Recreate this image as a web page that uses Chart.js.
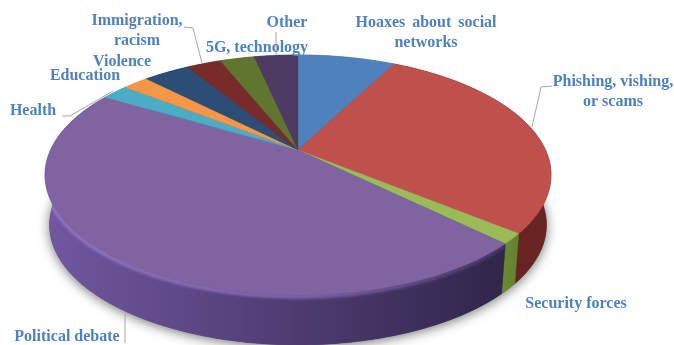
<!DOCTYPE html>
<html>
<head>
<meta charset="utf-8">
<title>Topics of disinformation</title>
<script src="https://cdn.jsdelivr.net/npm/chart.js@4"></script>
<style>
  html, body { margin: 0; background: #fff; overflow: hidden; }
  canvas { display: block; }
</style>
</head>
<body>
<canvas id="pie_chart" width="674" height="345"></canvas>
<script>
const categories = [
  "Hoaxes about social networks",
  "Phishing, vishing, or scams",
  "Security forces",
  "Political debate",
  "Health",
  "Education",
  "Violence",
  "Immigration, racism",
  "5G, technology",
  "Other",
];
const shares = [7.6, 28.3, 1.4, 46.2, 2.1, 2.0, 3.6, 2.7, 2.7, 3.4];
const faceColors = [
  "#4f81bd", "#c0504d", "#9bbb59", "#8064a2", "#4bacc6",
  "#f79646", "#2c4d75", "#772c2a", "#5f7530", "#4d3b62",
];
// left and right colour of each slice's side wall
const wallColors = [
  ["#3f6797", "#3f6797"], ["#5a1f1e", "#6a2523"], ["#6c8a35", "#64802f"],
  ["#7257a0", "#30254a"], ["#3c8a9e", "#3c8a9e"], ["#c67838", "#c67838"],
  ["#233e5e", "#233e5e"], ["#5f2322", "#5f2322"], ["#4c5e26", "#4c5e26"],
  ["#3e2f4e", "#3e2f4e"],
];

// tilted disc: apex position, radii and perspective strength
const disc = { x: 298, y: 150, a: 247.5, b: 114.8, k: 0.208, depth: 50, shrink: 0.982 };

function project(angle, r, lower) {
  const u = Math.sin(angle) * r;
  const v = -Math.cos(angle) * r;
  const w = 1 - disc.k * v;
  const s = lower ? disc.shrink : 1;
  return {
    x: disc.x + (disc.a * u * s) / w,
    y: disc.y + (disc.b * v) / w + (lower ? disc.depth : 0),
  };
}

function rimPoints(start, end, lower) {
  const n = Math.max(2, Math.ceil((end - start) * 60));
  const pts = [];
  for (let i = 0; i <= n; i++) {
    pts.push(project(start + ((end - start) * i) / n, 1, lower));
  }
  return pts;
}

const tiltedPie = {
  id: "tiltedPie",
  beforeDatasetsDraw(chart) {
    const ctx = chart.ctx;
    // chart.js angles start at 3 o'clock, the disc formula at 12
    const slices = chart.getDatasetMeta(0).data.map((arc, i) => ({
      start: arc.startAngle + Math.PI / 2,
      end: arc.endAngle + Math.PI / 2,
      i,
    }));

    // soft shadow under the base
    ctx.save();
    ctx.shadowColor = "rgba(0,0,0,0.55)";
    ctx.shadowBlur = 12;
    ctx.shadowOffsetY = 2;
    ctx.fillStyle = "#444";
    ctx.beginPath();
    rimPoints(0, Math.PI * 2, true).forEach((p) => ctx.lineTo(p.x, p.y));
    ctx.closePath();
    ctx.fill();
    ctx.restore();

    // side walls
    slices.forEach((s) => {
      const top = rimPoints(s.start, s.end, false);
      const low = rimPoints(s.start, s.end, true).reverse();
      const xs = top.concat(low).map((p) => p.x);
      const g = ctx.createLinearGradient(Math.min(...xs), 0, Math.max(...xs), 0);
      g.addColorStop(0, wallColors[s.i][0]);
      g.addColorStop(1, wallColors[s.i][1]);
      ctx.fillStyle = g;
      ctx.strokeStyle = g;
      ctx.lineWidth = 0.5;
      ctx.beginPath();
      top.concat(low).forEach((p) => ctx.lineTo(p.x, p.y));
      ctx.closePath();
      ctx.fill();
      ctx.stroke();
    });

    // lit bevel along the front rim of the largest slice, front half only
    const big = slices[3];
    const frontEnd = Math.PI * 2 - Math.acos(-disc.k);
    ctx.save();
    ctx.beginPath();
    rimPoints(0, Math.PI * 2, true).forEach((p) => ctx.lineTo(p.x, p.y));
    ctx.rect(0, 0, 674, 175);
    ctx.clip("nonzero");
    ctx.filter = "blur(1.5px)";
    const bevel = ctx.createLinearGradient(50, 0, 500, 0);
    bevel.addColorStop(0, "rgba(150,118,196,1)");
    bevel.addColorStop(0.6, "rgba(140,110,190,0.85)");
    bevel.addColorStop(1, "rgba(128,100,162,0.3)");
    ctx.strokeStyle = bevel;
    ctx.lineWidth = 4;
    ctx.beginPath();
    rimPoints(big.start, frontEnd, false).forEach((p) => ctx.lineTo(p.x, p.y + 1.5));
    ctx.stroke();
    ctx.restore();

    // top faces
    slices.forEach((s) => {
      ctx.fillStyle = faceColors[s.i];
      ctx.strokeStyle = faceColors[s.i];
      ctx.lineWidth = 0.4;
      ctx.beginPath();
      ctx.moveTo(disc.x, disc.y);
      rimPoints(s.start, s.end, false).forEach((p) => ctx.lineTo(p.x, p.y));
      ctx.closePath();
      ctx.fill();
      ctx.stroke();
    });

    // the arcs themselves are replaced by the tilted drawing
    return false;
  },
};

// wrapped label text, placed by hand around the disc
const labelLayout = [
  { lines: ["Hoaxes about social", "networks"], x: 426, y: 23, spacing: 3 },
  { lines: ["Phishing, vishing,", "or scams"], x: 613, y: 82 },
  { lines: ["Security forces"], x: 576, y: 304 },
  { lines: ["Political debate"], x: 67, y: 337 },
  { lines: ["Health"], x: 33, y: 111 },
  { lines: ["Education"], x: 85, y: 76 },
  { lines: ["Violence"], x: 122, y: 62 },
  { lines: ["Immigration,", "racism"], x: 137, y: 21 },
  { lines: ["5G, technology"], x: 257, y: 48 },
  { lines: ["Other"], x: 287, y: 23 },
];
const leaderLines = [
  [[184, 27], [193, 28], [202, 63]],
  [[276, 32], [276, 55]],
  [[62, 116], [70, 116], [113, 91]],
  [[552, 86], [541, 87], [532, 127]],
  [[125, 313], [125, 343]],
];

const calloutLabels = {
  id: "calloutLabels",
  afterDraw(chart) {
    const ctx = chart.ctx;
    ctx.save();
    ctx.strokeStyle = "#a6a6a6";
    ctx.lineWidth = 1;
    leaderLines.forEach((line) => {
      ctx.beginPath();
      line.forEach((p) => ctx.lineTo(p[0], p[1]));
      ctx.stroke();
    });
    ctx.fillStyle = "#4f81bd";
    ctx.font = 'bold 16px "Liberation Serif"';
    ctx.textAlign = "center";
    ctx.textBaseline = "middle";
    labelLayout.forEach((label) => {
      ctx.wordSpacing = (label.spacing || 0) + "px";
      label.lines.forEach((line, i) => {
        ctx.fillText(line, label.x, label.y + i * 20);
      });
    });
    ctx.restore();
  },
};

const ctx = document.getElementById("pie_chart").getContext("2d");
new Chart(ctx, {
  type: "pie",
  data: {
    labels: categories,
    datasets: [{ data: shares, backgroundColor: faceColors, borderWidth: 0 }],
  },
  options: {
    responsive: false,
    animation: false,
    plugins: { legend: { display: false }, tooltip: { enabled: false } },
  },
  plugins: [tiltedPie, calloutLabels],
});
</script>
</body>
</html>
